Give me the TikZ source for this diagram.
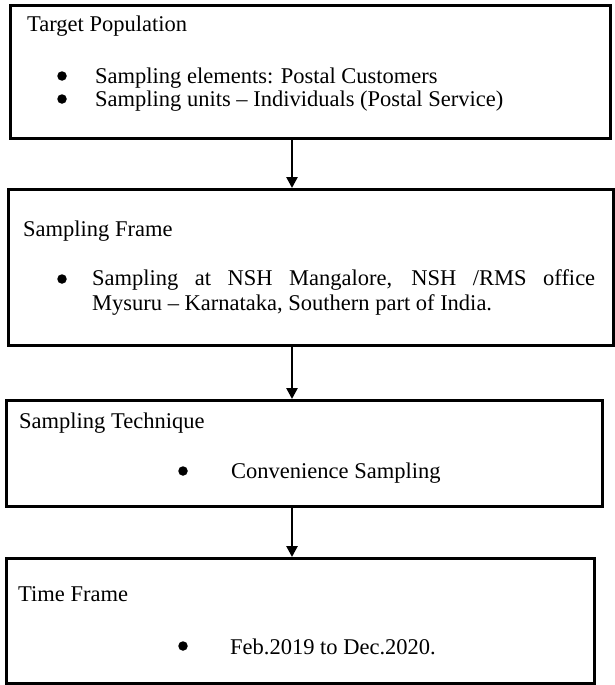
\documentclass[tikz,border=0pt]{standalone}
\usepackage{fontspec}
\setmainfont{Liberation Serif}
\usetikzlibrary{arrows.meta}
\begin{document}
\begin{tikzpicture}[x=1pt,y=-1pt,
  box/.style={draw,line width=3pt,rectangle,inner sep=0pt,anchor=north west},
  txt/.style={anchor=base west,inner sep=0pt,font=\fontsize{22.5}{26}\selectfont},
  arr/.style={line width=2.6pt,-{Triangle[length=11pt,width=11pt]}},
  bul/.style={circle,fill=black,inner sep=0pt,minimum size=9.5pt}]
\useasboundingbox (0,0) rectangle (615,685);
% boxes
\node[box,minimum width=600pt,minimum height=133pt] (b1) at (9,4) {};
\node[box,minimum width=605pt,minimum height=156pt] (b2) at (7,188) {};
\node[box,minimum width=596pt,minimum height=106pt] (b3) at (5,399) {};
\node[box,minimum width=588pt,minimum height=125pt] (b4) at (5,557) {};
% arrows
\coordinate (ax) at (292,0);
\draw[arr] (b1.south -| ax) -- (b2.north -| ax);
\draw[arr] (b2.south -| ax) -- (b3.north -| ax);
\draw[arr] (b3.south -| ax) -- (b4.north -| ax);
% box 1
\node[txt] (t1) at (27,32) {Target Population};
\node[bul] (p11) at (62,76) {};
\node[txt] (l11) at (95,83) {Sampling elements: Postal Customers};
\node[bul] (p12) at (62,99) {};
\node[txt] (l12) at (95,106) {Sampling units – Individuals (Postal Service)};
% box 2
\node[txt] (t2) at (23,236) {Sampling Frame};
\node[bul] (p21) at (62,279) {};
\node[txt] (l21) at (92,285) {\makebox[503pt][s]{Sampling at NSH Mangalore, NSH /RMS office}};
\node[txt] (l22) at (92,310) {Mysuru – Karnataka, Southern part of India.};
% box 3
\node[txt] (t3) at (19,428) {Sampling Technique};
\node[bul] (p31) at (183,471) {};
\node[txt] (l31) at (231,478) {Convenience Sampling};
% box 4
\node[txt] (t4) at (18,601) {Time Frame};
\node[bul] (p41) at (183,646) {};
\node[txt] (l41) at (230,654) {Feb.2019 to Dec.2020.};
\end{tikzpicture}
\end{document}
